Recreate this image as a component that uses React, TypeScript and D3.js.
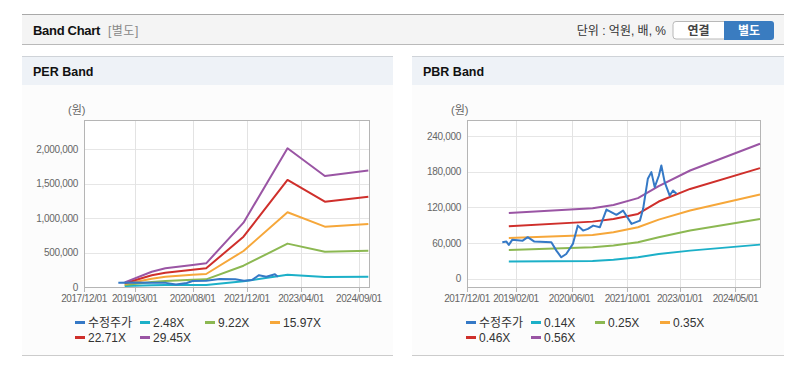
import React from "react";
import * as d3 from "d3";

// ---------- DATA ----------
const perTickLabels = ["2017/12/01", "2019/03/01", "2020/08/01", "2021/12/01", "2023/04/01", "2024/09/01"];
const pbrTickLabels = ["2017/12/01", "2019/02/01", "2020/06/01", "2021/10/01", "2023/01/01", "2024/05/01"];
const perYTicks = [0, 500000, 1000000, 1500000, 2000000];
const pbrYTicks = [0, 60000, 120000, 180000, 240000];

const perLegend = ["수정주가", "2.48X", "9.22X", "15.97X", "22.71X", "29.45X"];
const pbrLegend = ["수정주가", "0.14X", "0.25X", "0.35X", "0.46X", "0.56X"];

const perBandDates = ["2018-12-01", "2019-08-01", "2019-12-01", "2020-08-01", "2020-12-01", "2021-11-01", "2022-12-01", "2023-11-01", "2024-11-25"];
const perBand1 = [15000, 25000, 29000, 28000, 30000, 83000, 178000, 145000, 150000];
const perBand2 = [29000, 72000, 87000, 104000, 111000, 309000, 630000, 513000, 525000];
const perBand3 = [44000, 120000, 150000, 178000, 189000, 523000, 1085000, 876000, 915000];
const perBand4 = [54000, 170000, 208000, 250000, 271000, 731000, 1554000, 1239000, 1312000];
const perBand5 = [68000, 222000, 271000, 320000, 344000, 934000, 2014000, 1612000, 1690000];

const perPriceDates = ["2018-10-05", "2019-03-01", "2019-07-10", "2019-12-05", "2020-03-05", "2020-06-10", "2020-08-01", "2020-12-01", "2021-04-01", "2021-08-20", "2021-11-05", "2022-01-15", "2022-03-20", "2022-05-25", "2022-08-10", "2022-09-05"];
const perPriceVals = [62000, 66000, 62000, 60000, 36000, 58000, 88000, 90000, 116000, 114000, 92000, 100000, 172000, 150000, 185000, 150000];

const pbrBandDates = ["2018-12-01", "2020-12-01", "2021-06-01", "2022-01-01", "2022-07-01", "2023-04-01", "2024-12-01"];
const pbrBand1 = [28700, 29800, 32000, 36000, 41600, 47200, 57300];
const pbrBand2 = [48400, 52900, 56000, 61300, 69800, 80900, 100600];
const pbrBand3 = [68600, 73600, 78000, 86600, 99400, 114600, 141600];
const pbrBand4 = [88300, 96000, 100500, 109000, 129800, 151000, 186000];
const pbrBand5 = [110700, 118600, 124000, 135500, 155700, 182000, 227000];

const pbrPriceDates = ["2018-10-05", "2018-11-10", "2018-12-01", "2019-01-01", "2019-04-01", "2019-05-15", "2019-07-12", "2019-12-07", "2020-01-20", "2020-03-03", "2020-04-15", "2020-06-12", "2020-07-25", "2020-09-09", "2020-10-21", "2020-12-06", "2021-02-03", "2021-04-01", "2021-06-27", "2021-08-24", "2021-11-06", "2022-01-18", "2022-02-15", "2022-03-28", "2022-04-28", "2022-05-27", "2022-07-03", "2022-07-24", "2022-08-22", "2022-10-05", "2022-11-03", "2022-12-03"];
const pbrPriceVals = [61300, 62400, 56800, 65700, 64000, 69800, 62400, 61300, 47200, 36000, 41600, 58500, 89300, 80900, 83800, 89300, 86600, 116300, 107400, 114600, 92200, 97700, 117500, 168000, 179300, 154000, 173600, 190500, 162500, 139900, 148300, 142800];

const seriesColors = ["#3579c6", "#1cb0c8", "#8cb852", "#f6a73a", "#cf2f2b", "#9a55a4"];

// ---------- COMPONENTS ----------
const FONT = "'Liberation Sans', Arial, 'Noto Sans CJK KR', sans-serif";
const parse = d3.timeParse("%Y-%m-%d");
const parseTick = d3.timeParse("%Y/%m/%d");

type Panel = {
  x0: number;
  w: number;
  title: string;
  plot: { l: number; r: number; t: number; b: number };
  yDomain: [number, number];
  yTicks: number[];
  tickLabels: string[];
  legend: string[];
  bandDates: string[];
  bands: number[][];
  priceDates: string[];
  priceVals: number[];
  legendX: number[];
};

function Chart({ p }: { p: Panel }) {
  const x = d3
    .scaleTime()
    .domain([new Date(2017, 11, 1), new Date(2024, 11, 1)])
    .range([p.plot.l, p.plot.r]);
  const y = d3.scaleLinear().domain(p.yDomain).range([p.plot.b, p.plot.t]);
  const line = d3
    .line<[Date, number]>()
    .x((d) => x(d[0]))
    .y((d) => y(d[1]));
  const bandDates = p.bandDates.map((s) => parse(s) as Date);
  const priceDates = p.priceDates.map((s) => parse(s) as Date);
  const fmt = d3.format(",");
  const ticks = p.tickLabels.map((s) => parseTick(s) as Date);

  return (
    <g>
      {/* panel */}
      <rect x={p.x0} y={56} width={p.w} height={299} fill="#fcfcfc" />
      <rect x={p.x0} y={57} width={p.w} height={28} fill="#eef2f7" />
      <line x1={p.x0} x2={p.x0 + p.w} y1={56.5} y2={56.5} stroke="#cfd3d8" />
      <line x1={p.x0} x2={p.x0 + p.w} y1={355.5} y2={355.5} stroke="#cccccc" />
      <text x={p.x0 + 11} y={76} fontSize={12.5} fontWeight="bold" fill="#111" fontFamily={FONT}>
        {p.title}
      </text>
      {/* plot area */}
      <rect x={p.plot.l} y={p.plot.t} width={p.plot.r - p.plot.l} height={p.plot.b - p.plot.t} fill="#fff" />
      {p.yTicks.map((v) => (
        <line key={"gy" + v} x1={p.plot.l} x2={p.plot.r} y1={Math.round(y(v)) + 0.5} y2={Math.round(y(v)) + 0.5} stroke="#e6e6e6" />
      ))}
      {ticks.map((d, i) => (
        <line key={"gx" + i} x1={Math.round(x(d)) + 0.5} x2={Math.round(x(d)) + 0.5} y1={p.plot.t} y2={p.plot.b} stroke="#e3e3e3" />
      ))}
      <rect x={p.plot.l + 0.5} y={p.plot.t + 0.5} width={p.plot.r - p.plot.l} height={p.plot.b - p.plot.t} fill="none" stroke="#b5b5b5" />
      {ticks.map((d, i) => (
        <line key={"tx" + i} x1={Math.round(x(d)) + 0.5} x2={Math.round(x(d)) + 0.5} y1={p.plot.b} y2={p.plot.b + 5} stroke="#b5b5b5" />
      ))}
      {p.yTicks.map((v) => (
        <text key={"ly" + v} x={p.plot.l - 6} y={y(v) + 3.5} textAnchor="end" fontSize={10} letterSpacing={-0.3} fill="#666" fontFamily={FONT}>
          {fmt(v)}
        </text>
      ))}
      {ticks.map((d, i) => (
        <text key={"lx" + i} x={x(d)} y={302} textAnchor="middle" fontSize={10} letterSpacing={-0.45} fill="#666" fontFamily={FONT}>
          {p.tickLabels[i]}
        </text>
      ))}
      <text x={p.plot.l - 16} y={114} fontSize={11} fill="#666" fontFamily={FONT}>
        (원)
      </text>
      {/* series */}
      {p.bands.map((vals, i) => (
        <path
          key={"b" + i}
          d={line(vals.map((v, j) => [bandDates[j], v] as [Date, number])) || ""}
          fill="none"
          stroke={seriesColors[i + 1]}
          strokeWidth={2}
          strokeLinejoin="round"
        />
      ))}
      <path
        d={line(p.priceVals.map((v, j) => [priceDates[j], v] as [Date, number])) || ""}
        fill="none"
        stroke={seriesColors[0]}
        strokeWidth={2}
        strokeLinejoin="round"
      />
      {/* legend */}
      {p.legend.map((name, i) => {
        const col = i % 4;
        const row = Math.floor(i / 4);
        const lx = p.legendX[col];
        const ly = 322 + row * 15;
        return (
          <g key={"lg" + i}>
            <rect x={lx} y={ly - 1} width={10} height={3} fill={seriesColors[i]} />
            <text x={lx + 13} y={ly + 4.5} fontSize={12} fill="#333" fontFamily={FONT}>
              {name}
            </text>
          </g>
        );
      })}
    </g>
  );
}

const perPanel: Panel = {
  x0: 22,
  w: 371,
  title: "PER Band",
  plot: { l: 84, r: 369, t: 120, b: 287 },
  yDomain: [0, 2425000],
  yTicks: perYTicks,
  tickLabels: perTickLabels,
  legend: perLegend,
  bandDates: perBandDates,
  bands: [perBand1, perBand2, perBand3, perBand4, perBand5],
  priceDates: perPriceDates,
  priceVals: perPriceVals,
  legendX: [75, 140, 205, 270],
};

const pbrPanel: Panel = {
  x0: 412,
  w: 372,
  title: "PBR Band",
  plot: { l: 467, r: 760, t: 120, b: 287 },
  yDomain: [-14000, 267000],
  yTicks: pbrYTicks,
  tickLabels: pbrTickLabels,
  legend: pbrLegend,
  bandDates: pbrBandDates,
  bands: [pbrBand1, pbrBand2, pbrBand3, pbrBand4, pbrBand5],
  priceDates: pbrPriceDates,
  priceVals: pbrPriceVals,
  legendX: [466, 531, 595, 660],
};

export default function App() {
  return (
    <svg
      width={806}
      height={376}
      style={{ position: "absolute", left: 0, top: 0, background: "#fff" }}
      fontFamily={FONT}
    >
      {/* top header */}
      <rect x={22} y={14} width={762} height={31} fill="#f4f4f4" />
      <line x1={22} x2={784} y1={14.5} y2={14.5} stroke="#a9a9a9" strokeWidth={1} />
      <line x1={22} x2={784} y1={44.5} y2={44.5} stroke="#b9b9b9" strokeWidth={1} />
      <text x={33} y={35} fontSize={13} fontWeight="bold" fill="#111" letterSpacing={-0.3}>
        Band Chart
      </text>
      <text x={108} y={35} fontSize={12} fill="#888" letterSpacing={0.5}>
        [별도]
      </text>
      <text x={666} y={35} fontSize={12} fill="#333" textAnchor="end">
        단위 : 억원, 배, %
      </text>
      <path d="M726,21.5 H676 a3,3 0 0 0 -3,3 V36 a3,3 0 0 0 3,3 H726" fill="#fff" stroke="#b8b8b8" />
      <path d="M724,21 H771 a3,3 0 0 1 3,3 V37 a3,3 0 0 1 -3,3 H724 Z" fill="#3a7cc0" />
      <text x={698.5} y={35} fontSize={12} fill="#444" fontWeight="bold" textAnchor="middle">
        연결
      </text>
      <text x={749} y={35} fontSize={12} fill="#fff" fontWeight="bold" textAnchor="middle">
        별도
      </text>
      <Chart p={perPanel} />
      <Chart p={pbrPanel} />
    </svg>
  );
}
